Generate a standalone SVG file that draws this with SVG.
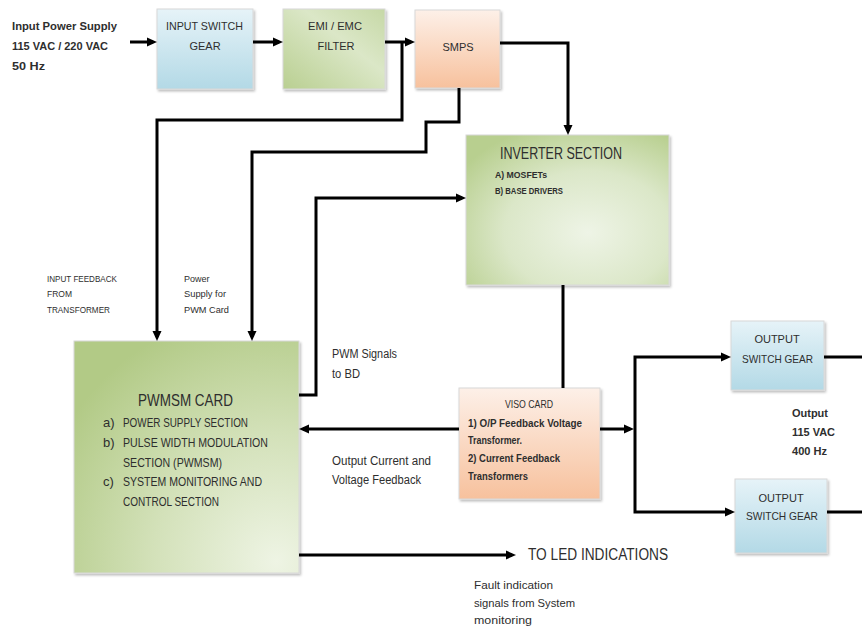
<svg xmlns="http://www.w3.org/2000/svg" width="862" height="631" viewBox="0 0 862 631">
<style>
text{font-family:"Liberation Sans",Arial,sans-serif;fill:#2e2e2e;}
.b{font-weight:bold;}
.box{stroke:#d8d8d8;stroke-width:1;filter:url(#sh);}
.wire{fill:none;stroke:#000;stroke-width:3;}
.arr{marker-end:url(#ah);}
</style>
<defs>
<marker id="ah" viewBox="0 0 10 10" refX="6" refY="5" markerWidth="10" markerHeight="10" markerUnits="userSpaceOnUse" orient="auto">
<path d="M0,0.5 L10,5 L0,9.5 z" fill="#000"/>
</marker>
<filter id="sh" x="-10%" y="-10%" width="125%" height="125%">
<feDropShadow dx="1.5" dy="2" stdDeviation="1.2" flood-color="#000" flood-opacity="0.25"/>
</filter>
<linearGradient id="gBlue" x1="0" y1="0" x2="0" y2="1">
<stop offset="0" stop-color="#e6f3f8"/>
<stop offset="1" stop-color="#b3d9e6"/>
</linearGradient>
<linearGradient id="gOr" x1="0" y1="0" x2="0" y2="1">
<stop offset="0" stop-color="#fdf0e8"/>
<stop offset="1" stop-color="#f7c19d"/>
</linearGradient>
<linearGradient id="gEmi" x1="0" y1="1" x2="1" y2="0">
<stop offset="0" stop-color="#b9cf91"/>
<stop offset="0.6" stop-color="#dbe7c7"/>
<stop offset="1" stop-color="#c6d8a6"/>
</linearGradient>
<radialGradient id="gInv" cx="0.6" cy="0.65" r="0.75">
<stop offset="0" stop-color="#eef4e6"/>
<stop offset="0.55" stop-color="#dbe7c8"/>
<stop offset="1" stop-color="#b8cf8f"/>
</radialGradient>
<radialGradient id="gPwm" cx="0.9" cy="0.95" r="1.1">
<stop offset="0" stop-color="#eef4e4"/>
<stop offset="0.5" stop-color="#d3e1b9"/>
<stop offset="1" stop-color="#b2ca86"/>
</radialGradient>
</defs>

<g id="input-label">
<text class="b" x="12" y="30" font-size="11" textLength="105" lengthAdjust="spacingAndGlyphs">Input Power Supply</text>
<text class="b" x="12" y="50" font-size="11" textLength="96" lengthAdjust="spacingAndGlyphs">115 VAC / 220 VAC</text>
<text class="b" x="12" y="70" font-size="11" textLength="33" lengthAdjust="spacingAndGlyphs">50 Hz</text>
</g>

<g id="input-switch-gear">
<rect class="box" x="157" y="9" width="96" height="80" fill="url(#gBlue)"/>
<text x="166" y="30" font-size="11" textLength="77" lengthAdjust="spacingAndGlyphs">INPUT SWITCH</text>
<text x="205" y="50" font-size="11" text-anchor="middle">GEAR</text>
</g>

<g id="emi-emc-filter">
<rect class="box" x="283" y="9" width="102" height="80" fill="url(#gEmi)"/>
<text x="308" y="30" font-size="11" textLength="54" lengthAdjust="spacingAndGlyphs">EMI / EMC</text>
<text x="336" y="50" font-size="11" text-anchor="middle">FILTER</text>
</g>

<g id="smps">
<rect class="box" x="415" y="10" width="85" height="78" fill="url(#gOr)"/>
<text x="458" y="51" font-size="11" text-anchor="middle">SMPS</text>
</g>

<g id="inverter-section">
<rect class="box" x="466" y="135" width="203" height="150" fill="url(#gInv)"/>
<text x="500" y="159" font-size="16.5" textLength="122" lengthAdjust="spacingAndGlyphs">INVERTER SECTION</text>
<text class="b" x="495" y="178" font-size="8.5" textLength="52" lengthAdjust="spacingAndGlyphs">A) MOSFETs</text>
<text class="b" x="495" y="194" font-size="8.5" textLength="68" lengthAdjust="spacingAndGlyphs">B) BASE DRIVERS</text>
</g>

<g id="pwmsm-card">
<rect class="box" x="74" y="341" width="225" height="232" fill="url(#gPwm)"/>
<text x="138" y="406" font-size="17" textLength="95" lengthAdjust="spacingAndGlyphs">PWMSM CARD</text>
<text x="103" y="427" font-size="13">a)</text>
<text x="123" y="427" font-size="13" textLength="125" lengthAdjust="spacingAndGlyphs">POWER SUPPLY SECTION</text>
<text x="103" y="447" font-size="13">b)</text>
<text x="123" y="447" font-size="13" textLength="145" lengthAdjust="spacingAndGlyphs">PULSE WIDTH MODULATION</text>
<text x="123" y="467" font-size="13" textLength="99" lengthAdjust="spacingAndGlyphs">SECTION (PWMSM)</text>
<text x="103" y="486" font-size="13">c)</text>
<text x="123" y="486" font-size="13" textLength="139" lengthAdjust="spacingAndGlyphs">SYSTEM MONITORING AND</text>
<text x="123" y="506" font-size="13" textLength="96" lengthAdjust="spacingAndGlyphs">CONTROL SECTION</text>
</g>

<g id="viso-card">
<rect class="box" x="459" y="388" width="141" height="111" fill="url(#gOr)"/>
<text x="505" y="408" font-size="11" textLength="48" lengthAdjust="spacingAndGlyphs">VISO CARD</text>
<text class="b" x="468" y="427" font-size="10.5" textLength="114" lengthAdjust="spacingAndGlyphs">1) O/P Feedback Voltage</text>
<text class="b" x="468" y="444" font-size="10.5" textLength="54" lengthAdjust="spacingAndGlyphs">Transformer.</text>
<text class="b" x="468" y="462" font-size="10.5" textLength="92" lengthAdjust="spacingAndGlyphs">2) Current Feedback</text>
<text class="b" x="468" y="480" font-size="10.5" textLength="60" lengthAdjust="spacingAndGlyphs">Transformers</text>
</g>

<g id="output-switch-gear-1">
<rect class="box" x="731" y="321" width="93" height="69" fill="url(#gBlue)"/>
<text x="777" y="343" font-size="11" text-anchor="middle">OUTPUT</text>
<text x="742" y="363" font-size="11" textLength="71" lengthAdjust="spacingAndGlyphs">SWITCH GEAR</text>
</g>

<g id="output-switch-gear-2">
<rect class="box" x="735" y="479" width="92" height="74" fill="url(#gBlue)"/>
<text x="781" y="502" font-size="11" text-anchor="middle">OUTPUT</text>
<text x="746" y="520" font-size="11" textLength="72" lengthAdjust="spacingAndGlyphs">SWITCH GEAR</text>
</g>

<g id="labels">
<text x="47" y="282" font-size="8.5" fill="#444" textLength="70" lengthAdjust="spacingAndGlyphs">INPUT FEEDBACK</text>
<text x="47" y="297" font-size="8.5" fill="#444">FROM</text>
<text x="47" y="313" font-size="8.5" fill="#444" textLength="63" lengthAdjust="spacingAndGlyphs">TRANSFORMER</text>
<text x="184" y="282" font-size="9">Power</text>
<text x="184" y="297" font-size="9" textLength="42" lengthAdjust="spacingAndGlyphs">Supply for</text>
<text x="184" y="313" font-size="9" textLength="45" lengthAdjust="spacingAndGlyphs">PWM Card</text>
<text x="332" y="358" font-size="12" textLength="65" lengthAdjust="spacingAndGlyphs">PWM Signals</text>
<text x="332" y="378" font-size="12" textLength="28" lengthAdjust="spacingAndGlyphs">to BD</text>
<text x="332" y="465" font-size="12" textLength="99" lengthAdjust="spacingAndGlyphs">Output Current and</text>
<text x="332" y="484" font-size="12" textLength="89" lengthAdjust="spacingAndGlyphs">Voltage Feedback</text>
<text class="b" x="792" y="417" font-size="11" textLength="36" lengthAdjust="spacingAndGlyphs">Output</text>
<text class="b" x="792" y="436" font-size="11" textLength="43" lengthAdjust="spacingAndGlyphs">115 VAC</text>
<text class="b" x="792" y="455" font-size="11" textLength="35" lengthAdjust="spacingAndGlyphs">400 Hz</text>
<text x="528" y="560" font-size="16" textLength="140" lengthAdjust="spacingAndGlyphs">TO LED INDICATIONS</text>
<text x="474" y="589" font-size="11" textLength="79" lengthAdjust="spacingAndGlyphs">Fault indication</text>
<text x="474" y="607" font-size="11" textLength="101" lengthAdjust="spacingAndGlyphs">signals from System</text>
<text x="474" y="624" font-size="11" textLength="58" lengthAdjust="spacingAndGlyphs">monitoring</text>
</g>

<g id="connectors">
<path class="wire arr" d="M130,42 H153"/>
<path class="wire arr" d="M253,42 H279"/>
<path class="wire arr" d="M385,42 H411"/>
<path class="wire arr" d="M402,42 V120 H157 V337"/>
<path class="wire arr" d="M459,88 V122 H426 V152 H252 V337"/>
<path class="wire arr" d="M500,43 H568 V131"/>
<path class="wire arr" d="M299,395 H316 V198 H462"/>
<path class="wire" d="M563,285 V388"/>
<path class="wire arr" d="M459,429 H303"/>
<path class="wire arr" d="M600,429 H630"/>
<path class="wire arr" d="M635,429 V357 H727"/>
<path class="wire arr" d="M635,429 V512 H731"/>
<path class="wire" d="M824,357 H862"/>
<path class="wire" d="M827,512 H862"/>
<path class="wire arr" d="M299,555 H512"/>
</g>
</svg>
